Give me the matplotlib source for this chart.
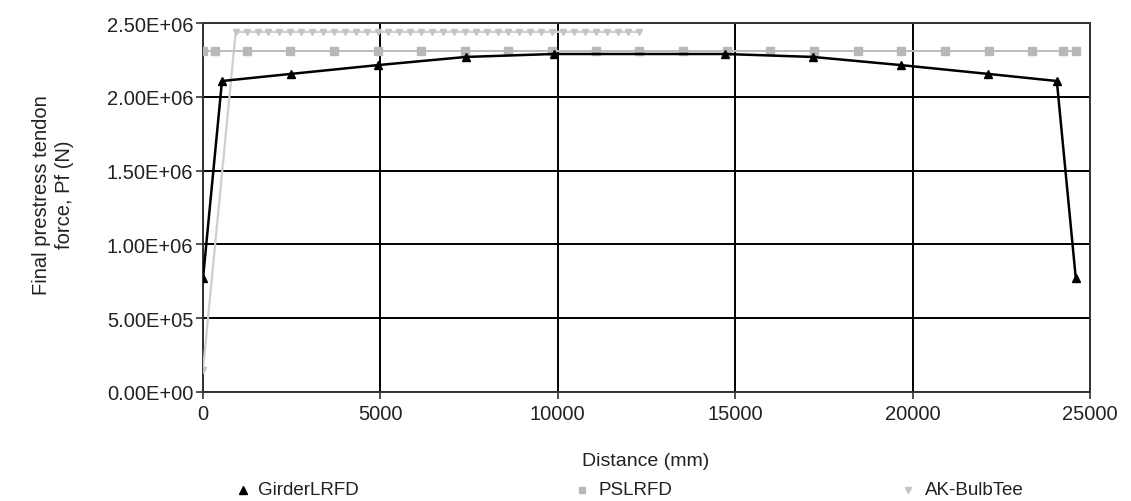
import numpy as np
import matplotlib
matplotlib.use("Agg")
import matplotlib.pyplot as plt
from matplotlib.lines import Line2D
from matplotlib.ticker import FuncFormatter

plt.rcParams["font.family"] = ["Liberation Sans", "DejaVu Sans"]

# --- data (distance in mm, force in N) ---
girder_x = [0, 535, 2470, 4940, 7410, 9880, 14720, 17190, 19660, 22130, 24065, 24600]
girder_y = [7.7e5, 2.107e6, 2.155e6, 2.215e6, 2.27e6, 2.29e6,
            2.29e6, 2.27e6, 2.215e6, 2.155e6, 2.107e6, 7.7e5]

psl_x = [0, 350, 1230, 2460, 3690, 4920, 6150, 7380, 8610, 9840, 11070, 12300,
         13530, 14760, 15990, 17220, 18450, 19680, 20910, 22140, 23370, 24250, 24600]
psl_y = [2.31e6] * len(psl_x)

ak_x = [0, 922, 1230, 1537, 1845, 2152, 2460, 2767, 3075, 3382, 3690, 3997, 4305,
        4612, 4920, 5227, 5535, 5842, 6150, 6457, 6765, 7072, 7380, 7687, 7995,
        8302, 8610, 8917, 9225, 9532, 9840, 10147, 10455, 10762, 11070, 11377,
        11685, 11992, 12300]
ak_y = [1.5e5] + [2.44e6] * (len(ak_x) - 1)

x_ticks = [0, 5000, 10000, 15000, 20000, 25000]
y_ticks = [0, 5e5, 1e6, 1.5e6, 2e6, 2.5e6]

W, H = 1131, 502
fig = plt.figure(figsize=(W / 100, H / 100), dpi=100)
ax = fig.add_axes([203 / W, 1 - 393 / H, (1090 - 203) / W, (393 - 24) / H])

txt = "#222222"

ax.plot(ak_x, ak_y, color="#cfcfcf", lw=1.6, marker="v", ms=4.5,
        mec="#c4c4c4", mfc="#c4c4c4", zorder=3)
ax.plot(psl_x, psl_y, color="#bdbdbd", lw=1.4, marker="s", ms=5.5,
        mec="#b8b8b8", mfc="#b8b8b8", zorder=4)
ax.plot(girder_x, girder_y, color="black", lw=1.8, marker="^", ms=6,
        mec="black", mfc="black", zorder=5)

ax.set_xlim(0, 25000)
ax.set_ylim(0, 2.5e6)
ax.set_xticks(x_ticks)
ax.set_yticks(y_ticks)
ax.yaxis.set_major_formatter(FuncFormatter(lambda v, p: f"{v:.2E}"))
ax.xaxis.set_major_formatter(FuncFormatter(lambda v, p: f"{int(v)}"))
ax.grid(True, color="black", lw=1.4)
ax.set_axisbelow(True)
for s in ax.spines.values():
    s.set_color("#333333")
    s.set_linewidth(1.4)
ax.tick_params(axis="both", direction="out", length=5, width=1.2,
               labelsize=14.5, labelcolor=txt, color="#333333")
ax.tick_params(axis="y", pad=2)
ax.tick_params(axis="x", pad=4)

# axis titles
fig.text(646 / W, 1 - 462 / H, "Distance (mm)", ha="center", va="center",
         fontsize=14, color=txt)
fig.text(53 / W, 1 - 195 / H, "Final prestress tendon\nforce, Pf (N)",
         rotation=90, ha="center", va="center", multialignment="center",
         fontsize=14.5, color=txt, linespacing=1.2)

# legend along the bottom edge
leg_y = 1 - 491 / H
legend_items = [
    (243, 258, "GirderLRFD", "^", "black", 6),
    (582, 598, "PSLRFD", "s", "#b8b8b8", 5),
    (908, 925, "AK-BulbTee", "v", "#c4c4c4", 5),
]
for mx, tx, label, mk, col, ms in legend_items:
    fig.add_artist(Line2D([mx / W], [leg_y], marker=mk, color=col, ms=ms,
                          ls="none", transform=fig.transFigure))
    fig.text(tx / W, leg_y, label, ha="left", va="center", fontsize=13.5, color=txt)

fig.savefig("out.png", dpi=100)
